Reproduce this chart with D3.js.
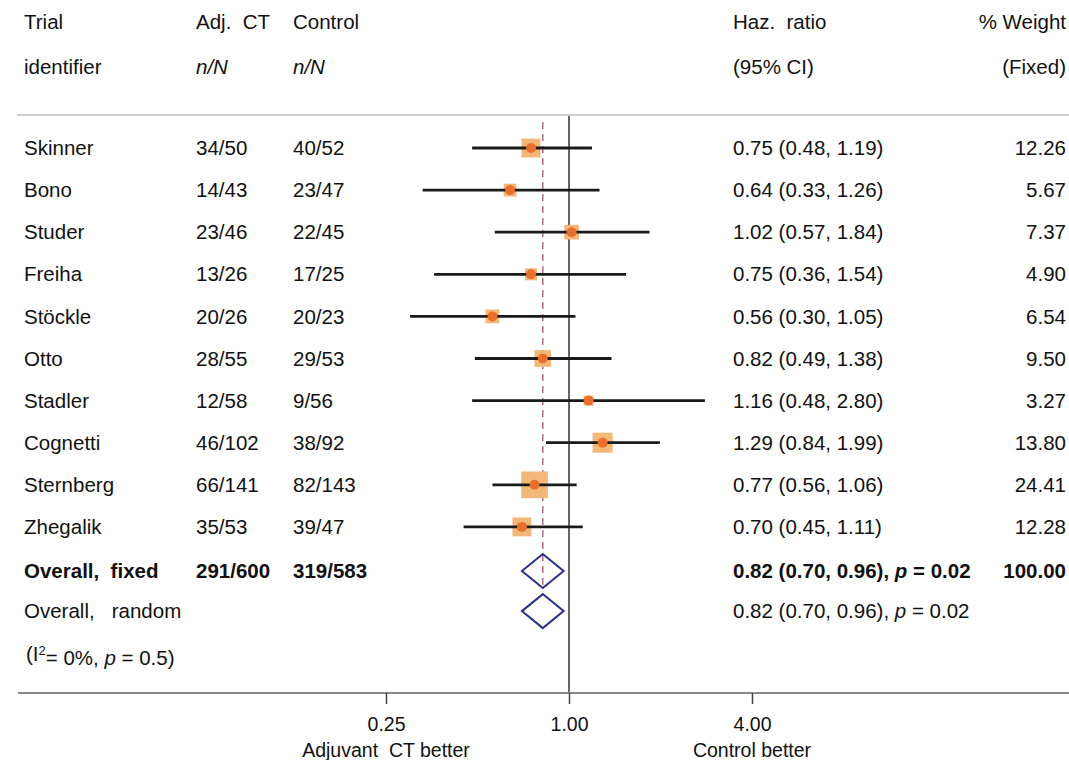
<!DOCTYPE html>
<html>
<head>
<meta charset="utf-8">
<script src="https://cdn.jsdelivr.net/npm/d3@7"></script>
<style>
  body { margin: 0; background: #fff; }
  svg text { font-family: "Liberation Sans", Arial, sans-serif; font-size: 20.5px; fill: #111; white-space: pre; }
</style>
</head>
<body>
<svg id="chart" width="1069" height="760"></svg>
<script>
// trial data
var trials  = ["Skinner", "Bono", "Studer", "Freiha", "Stöckle", "Otto", "Stadler", "Cognetti", "Sternberg", "Zhegalik"];
var adjCT   = ["34/50", "14/43", "23/46", "13/26", "20/26", "28/55", "12/58", "46/102", "66/141", "35/53"];
var control = ["40/52", "23/47", "22/45", "17/25", "20/23", "29/53", "9/56", "38/92", "82/143", "39/47"];
var hr      = [0.75, 0.64, 1.02, 0.75, 0.56, 0.82, 1.16, 1.29, 0.77, 0.70];
var lower   = [0.48, 0.33, 0.57, 0.36, 0.30, 0.49, 0.48, 0.84, 0.56, 0.45];
var upper   = [1.19, 1.26, 1.84, 1.54, 1.05, 1.38, 2.80, 1.99, 1.06, 1.11];
var weight  = [12.26, 5.67, 7.37, 4.90, 6.54, 9.50, 3.27, 13.80, 24.41, 12.28];

var pooled  = { hr: 0.82, lo: 0.70, hi: 0.96, p: "0.02" };
var totals  = ["291/600", "319/583"];
var tickVals = [0.25, 1, 4];

var svg = d3.select("#chart");
var f2 = d3.format(".2f");

var x = d3.scaleLog().base(2)
    .domain([0.25, 4])
    .range([386, 752]);

var rowY = d3.scaleLinear().domain([0, 1]).range([148, 190.1]);

var colName = 24, colA = 196, colC = 293, colHR = 733, colW = 1066;

// headers
var hdr = svg.append("g");
hdr.append("text").attr("x", colName).attr("y", 22).attr("dy", "0.35em").text("Trial");
hdr.append("text").attr("x", colName).attr("y", 67).attr("dy", "0.35em").text("identifier");
hdr.append("text").attr("x", colA).attr("y", 22).attr("dy", "0.35em").text("Adj.  CT");
hdr.append("text").attr("x", colA).attr("y", 67).attr("dy", "0.35em").style("font-style", "italic").text("n/N");
hdr.append("text").attr("x", colC).attr("y", 22).attr("dy", "0.35em").text("Control");
hdr.append("text").attr("x", colC).attr("y", 67).attr("dy", "0.35em").style("font-style", "italic").text("n/N");
hdr.append("text").attr("x", colHR).attr("y", 22).attr("dy", "0.35em").text("Haz.  ratio");
hdr.append("text").attr("x", colHR).attr("y", 67).attr("dy", "0.35em").text("(95% CI)");
hdr.append("text").attr("x", colW).attr("y", 22).attr("dy", "0.35em").attr("text-anchor", "end").text("% Weight");
hdr.append("text").attr("x", colW).attr("y", 67).attr("dy", "0.35em").attr("text-anchor", "end").text("(Fixed)");

// top rule
svg.append("line").attr("x1", 17).attr("x2", 1069).attr("y1", 115).attr("y2", 115)
    .attr("stroke", "#cfcfcf").attr("stroke-width", 2);

// null line at 1
svg.append("line").attr("x1", x(1)).attr("x2", x(1)).attr("y1", 116).attr("y2", 693)
    .attr("stroke", "#333").attr("stroke-width", 1.5);

// pooled estimate dashed line
svg.append("line").attr("x1", x(pooled.hr)).attr("x2", x(pooled.hr))
    .attr("y1", 122).attr("y2", rowY(10) + 16)
    .attr("stroke", "#b0708a").attr("stroke-width", 1.5).attr("stroke-dasharray", "7,5");

var rows = svg.append("g").selectAll("g")
    .data(trials)
    .enter().append("g")
    .attr("transform", function(d, i) { return "translate(0," + rowY(i) + ")"; });

// weight boxes
rows.append("rect")
    .attr("x", function(d, i) { return x(hr[i]) - 2.7 * Math.sqrt(weight[i]); })
    .attr("y", function(d, i) { return -2.7 * Math.sqrt(weight[i]); })
    .attr("width", function(d, i) { return 5.4 * Math.sqrt(weight[i]); })
    .attr("height", function(d, i) { return 5.4 * Math.sqrt(weight[i]); })
    .attr("fill", "#f2b878");

// CI lines
rows.append("line")
    .attr("x1", function(d, i) { return x(lower[i]); })
    .attr("x2", function(d, i) { return x(upper[i]); })
    .attr("stroke", "#1a1a1a").attr("stroke-width", 2.8);

rows.append("circle")
    .attr("cx", function(d, i) { return x(hr[i]); })
    .attr("r", 5)
    .attr("fill", "#e8702c");

rows.append("text").attr("x", colName).attr("dy", "0.35em").text(function(d) { return d; });
rows.append("text").attr("x", colA).attr("dy", "0.35em").text(function(d, i) { return adjCT[i]; });
rows.append("text").attr("x", colC).attr("dy", "0.35em").text(function(d, i) { return control[i]; });
rows.append("text").attr("x", colHR).attr("dy", "0.35em")
    .text(function(d, i) { return f2(hr[i]) + " (" + f2(lower[i]) + ", " + f2(upper[i]) + ")"; });
rows.append("text").attr("x", colW).attr("dy", "0.35em").attr("text-anchor", "end")
    .text(function(d, i) { return f2(weight[i]); });

// overall rows
var yFixed = rowY(10) + 2, yRand = rowY(11) + 0, yHet = rowY(12) + 1;

function diamond(y) {
  var h = 17;
  return "M" + x(pooled.lo) + "," + y + "L" + x(pooled.hr) + "," + (y - h) +
         "L" + x(pooled.hi) + "," + y + "L" + x(pooled.hr) + "," + (y + h) + "Z";
}
svg.append("path").attr("d", diamond(yFixed)).attr("fill", "none")
    .attr("stroke", "#2b2f8c").attr("stroke-width", 2);
svg.append("path").attr("d", diamond(yRand)).attr("fill", "none")
    .attr("stroke", "#2b2f8c").attr("stroke-width", 2);

var bold = svg.append("g").style("font-weight", "bold");
bold.append("text").attr("x", colName).attr("y", yFixed).attr("dy", "0.35em").style("font-weight", "bold").text("Overall,  fixed");
bold.append("text").attr("x", colA).attr("y", yFixed).attr("dy", "0.35em").style("font-weight", "bold").text(totals[0]);
bold.append("text").attr("x", colC).attr("y", yFixed).attr("dy", "0.35em").style("font-weight", "bold").text(totals[1]);
var bt = bold.append("text").attr("x", colHR).attr("y", yFixed).attr("dy", "0.35em").style("font-weight", "bold");
bt.append("tspan").text(f2(pooled.hr) + " (" + f2(pooled.lo) + ", " + f2(pooled.hi) + "), ");
bt.append("tspan").style("font-style", "italic").text("p");
bt.append("tspan").text(" = " + pooled.p);
bold.append("text").attr("x", colW).attr("y", yFixed).attr("dy", "0.35em").attr("text-anchor", "end").style("font-weight", "bold").text("100.00");

svg.append("text").attr("x", colName).attr("y", yRand).attr("dy", "0.35em").text("Overall,   random");
var rt = svg.append("text").attr("x", colHR).attr("y", yRand).attr("dy", "0.35em");
rt.append("tspan").text(f2(pooled.hr) + " (" + f2(pooled.lo) + ", " + f2(pooled.hi) + "), ");
rt.append("tspan").style("font-style", "italic").text("p");
rt.append("tspan").text(" = " + pooled.p);

var het = svg.append("text").attr("x", colName + 2).attr("y", yHet).attr("dy", "0.35em");
het.append("tspan").text("(I");
het.append("tspan").attr("dy", "-0.5em").style("font-size", "13px").text("2");
het.append("tspan").attr("dy", "0.5em").text("= 0%, ");
het.append("tspan").style("font-style", "italic").text("p");
het.append("tspan").text(" = 0.5)");

// axis
svg.append("line").attr("x1", 18).attr("x2", 1069).attr("y1", 693).attr("y2", 693)
    .attr("stroke", "#888").attr("stroke-width", 2);

var axis = svg.append("g").attr("transform", "translate(0,693)")
    .call(d3.axisBottom(x).tickValues(tickVals).tickFormat(f2).tickSize(11).tickPadding(13));
axis.select(".domain").remove();
axis.selectAll(".tick line").attr("stroke", "#444").attr("stroke-width", 1.5);
axis.selectAll(".tick text").style("font-size", "19.5px").attr("fill", "#111");

svg.append("text").attr("x", x(0.25)).attr("y", 750).attr("dy", "0.35em").attr("text-anchor", "middle").style("font-size", "19.5px").text("Adjuvant  CT better");
svg.append("text").attr("x", x(4)).attr("y", 750).attr("dy", "0.35em").attr("text-anchor", "middle").style("font-size", "19.5px").text("Control better");
</script>
</body>
</html>
